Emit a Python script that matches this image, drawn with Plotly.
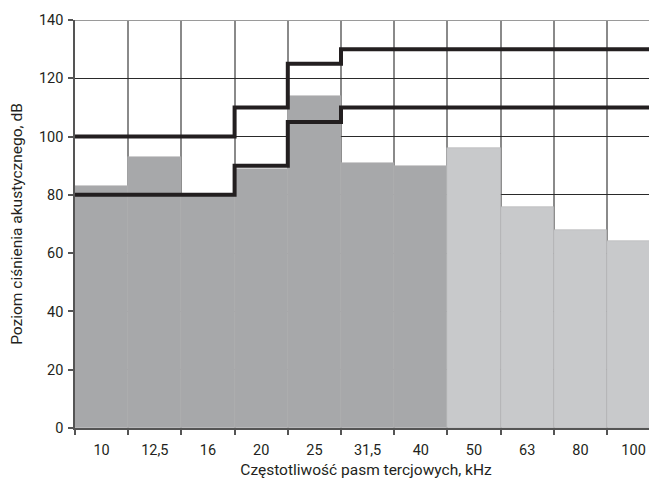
import plotly.graph_objects as go

categories = ["10", "12,5", "16", "20", "25", "31,5", "40", "50", "63", "80", "100"]
levels = [83, 93, 80, 89, 114, 91, 90, 96, 76, 68, 64]
upper_limit = [100, 100, 100, 110, 125, 130, 130, 130, 130, 130, 130]
lower_limit = [80, 80, 80, 90, 105, 110, 110, 110, 110, 110, 110]
dark_count = 7
y_ticks = [0, 20, 40, 60, 80, 100, 120, 140]

FONT = "Roboto, Liberation Sans, sans-serif"

idx = list(range(len(categories)))
colors = ["#a7a8aa" if i < dark_count else "#c8c9cb" for i in idx]

fig = go.Figure()
fig.add_trace(go.Bar(
    x=idx, y=levels, marker=dict(color=colors, line=dict(width=0.6, color="#b3b4b6")),
    width=1.0, showlegend=False,
))

step_x = [i - 0.5 for i in idx] + [len(idx) - 0.5]
for series in (upper_limit, lower_limit):
    fig.add_trace(go.Scatter(
        x=step_x, y=series + [series[-1]], mode="lines",
        line=dict(color="#231f20", width=4, shape="hv"), showlegend=False,
    ))

# page body has an 8px margin: compensate in figure size/margins
fig.update_layout(
    width=649, height=473,
    margin=dict(l=67, r=0, t=12, b=53),
    paper_bgcolor="white", plot_bgcolor="white",
    bargap=0,
    font=dict(family=FONT, size=15, color="#231f20"),
    xaxis=dict(
        range=[-0.5, 10.44], automargin=False,
        tickmode="array", tickvals=idx, ticktext=categories,
        ticks="", showgrid=False, zeroline=False,
        showline=True, linecolor="#555555", linewidth=1.5,
        tickfont=dict(size=14.5), ticklabelstandoff=8,
        title=dict(text="Częstotliwość pasm tercjowych, kHz", font=dict(size=15.5), standoff=6),
        minor=dict(tickmode="linear", tick0=-0.5, dtick=1, showgrid=True,
                   gridcolor="#8a8a8a", gridwidth=1.5,
                   ticks="outside", ticklen=5, tickcolor="#555555", tickwidth=1.5),
        layer="below traces",
    ),
    yaxis=dict(
        range=[0, 140], tickmode="array", tickvals=y_ticks, automargin=False,
        ticks="outside", ticklen=5, tickcolor="#555555", tickwidth=1.5,
        showgrid=True, gridcolor="#2a2a2a", gridwidth=1,
        zeroline=False, showline=True, linecolor="#555555", linewidth=1.5,
        tickfont=dict(size=14.5), ticklabelstandoff=2,
        title=dict(text="Poziom ciśnienia akustycznego, dB", font=dict(size=15.5), standoff=14),
    ),
    shapes=[dict(type="line", xref="paper", yref="y", x0=0, x1=1, y0=140, y1=140,
                 line=dict(color="#9a9a9a", width=2))],
)

fig.write_html("out.html")
